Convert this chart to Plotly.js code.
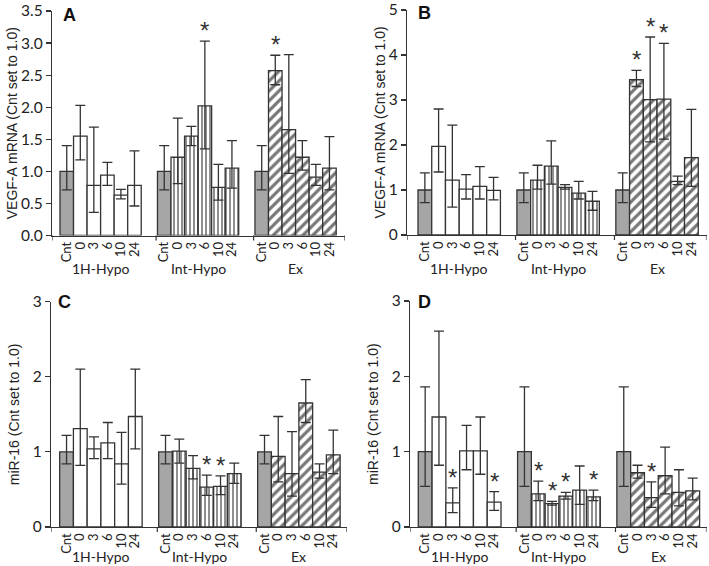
<!DOCTYPE html>
<html><head><meta charset="utf-8">
<script src="https://cdn.plot.ly/plotly-3.0.1.min.js"></script>
<style>html,body{margin:0;padding:0;background:#fff}#chart{width:709px;height:566px}</style>
</head><body><div id="chart"></div>
<script>
const categories = ['Cnt','0','3','6','10','24'];
const groups = ['1H-Hypo','Int-Hypo','Ex'];

// Panel A: VEGF-A mRNA
const aMean = [1.00,1.55,0.78,0.94,0.63,0.78, 1.00,1.22,1.55,2.02,0.75,1.05, 1.00,2.57,1.65,1.22,0.91,1.05];
const aHigh = [1.40,2.03,1.69,1.14,0.72,1.32, 1.40,1.83,1.70,3.03,1.11,1.48, 1.40,2.81,2.82,1.48,1.11,1.54];
const aLow  = [0.71,1.18,0.36,0.78,0.57,0.46, 0.71,0.81,1.40,1.35,0.55,0.74, 0.71,2.35,0.97,1.02,0.78,0.71];
const aStar = [0,0,0,0,0,0, 0,0,0,1,0,0, 0,1,0,0,0,0];

// Panel B: VEGF-A mRNA
const bMean = [1.00,1.97,1.22,1.02,1.08,0.99, 1.00,1.22,1.53,1.06,0.93,0.75, 1.00,3.45,3.01,3.02,1.19,1.72];
const bHigh = [1.38,2.80,2.44,1.34,1.52,1.28, 1.38,1.55,2.09,1.12,1.19,0.97, 1.38,3.66,4.40,4.26,1.31,2.79];
const bLow  = [0.72,1.40,0.62,0.80,0.80,0.78, 0.72,1.02,1.13,1.02,0.80,0.55, 0.72,3.30,2.07,2.13,1.12,1.08];
const bStar = [0,0,0,0,0,0, 0,0,0,0,0,0, 0,1,1,1,0,0];

// Panel C: miR-16
const cMean = [1.00,1.31,1.04,1.12,0.84,1.47, 1.00,1.01,0.78,0.53,0.54,0.71, 1.00,0.94,0.71,1.65,0.73,0.96];
const cHigh = [1.22,2.10,1.20,1.39,1.26,2.10, 1.22,1.17,0.95,0.69,0.68,0.85, 1.22,1.47,1.27,1.96,0.84,1.29];
const cLow  = [0.84,0.82,0.91,0.91,0.57,1.04, 0.84,0.85,0.64,0.42,0.43,0.58, 0.84,0.60,0.41,1.39,0.65,0.71];
const cStar = [0,0,0,0,0,0, 0,0,0,1,1,0, 0,0,0,0,0,0];

// Panel D: miR-16
const dMean = [1.00,1.46,0.32,1.01,1.01,0.33, 1.00,0.44,0.31,0.41,0.49,0.40, 1.00,0.72,0.39,0.68,0.46,0.48];
const dHigh = [1.86,2.60,0.52,1.35,1.46,0.47, 1.86,0.61,0.34,0.46,0.81,0.49, 1.86,0.82,0.60,1.06,0.76,0.65];
const dLow  = [0.54,0.82,0.19,0.76,0.70,0.22, 0.54,0.35,0.29,0.37,0.30,0.35, 0.54,0.65,0.26,0.44,0.28,0.36];
const dStar = [0,0,1,0,0,1, 0,1,1,1,0,1, 0,0,1,0,0,0];

const W = 709, H = 566;
const GSTEP = 7.2;
const pos = (g, i) => g * GSTEP + i;
const px = v => v / W;
const py = v => 1 - v / H;

const LINE = '#333333';
const CAL = 'Lato, "Open Sans", sans-serif';
const ARIAL = '"Liberation Sans", Arial, sans-serif';

const panels = [
  {mean:aMean, hi:aHigh, lo:aLow, star:aStar, letter:'A', title:'VEGF-A mRNA (Cnt set to 1.0)',
   xd:[52,345], yd:[235.5,11], yr:[0,3.5], dt:0.5, fmt:'.1f', xr:[-1.09,20.55], gy:268, tx:12, lx:69, ly:15},
  {mean:bMean, hi:bHigh, lo:bLow, star:bStar, letter:'B', title:'VEGF-A mRNA (Cnt set to 1.0)',
   xd:[407,706.5], yd:[235,10], yr:[0,5], dt:1, fmt:'d', xr:[-1.3,20.5], gy:268, tx:380, lx:425, ly:13},
  {mean:cMean, hi:cHigh, lo:cLow, star:cStar, letter:'C', title:'miR-16 (Cnt set to 1.0)',
   xd:[51,347], yd:[527,301.5], yr:[0,3], dt:1, fmt:'d', xr:[-1.13,20.4], gy:556, tx:14, lx:64, ly:302},
  {mean:dMean, hi:dHigh, lo:dLow, star:dStar, letter:'D', title:'miR-16 (Cnt set to 1.0)',
   xd:[410,706.5], yd:[527,301], yr:[0,3], dt:1, fmt:'d', xr:[-1.1,20.4], gy:556, tx:373, lx:425, ly:302}
];

const traces = [];
const layout = {
  width: W, height: H, margin:{l:0,r:0,t:0,b:0},
  paper_bgcolor:'#fff', plot_bgcolor:'#fff', showlegend:false, bargap:0, barmode:'overlay',
  annotations:[], shapes:[]
};

const styles = [
  {sel:(g,i)=>i===0, color:'#a6a6a6', pattern:null},
  {sel:(g,i)=>g===0 && i>0, color:'#ffffff', pattern:null},
  {sel:(g,i)=>g===1 && i>0, color:'#ffffff', pattern:{shape:'|', fgcolor:'#8f8f8f', bgcolor:'#ffffff', size:4, solidity:0.5}},
  {sel:(g,i)=>g===2 && i>0, color:'#ffffff', pattern:{shape:'/', fgcolor:'#767676', bgcolor:'#ffffff', size:7, solidity:0.45}}
];

panels.forEach((p, k) => {
  const n = k === 0 ? '' : String(k + 1);
  const xa = 'x' + n, ya = 'y' + n;
  styles.forEach(st => {
    const xs = [], ys = [], up = [], dn = [];
    groups.forEach((gname, g) => categories.forEach((c, i) => {
      if (!st.sel(g, i)) return;
      const idx = g * categories.length + i;
      xs.push(pos(g, i)); ys.push(p.mean[idx]);
      up.push(p.hi[idx] - p.mean[idx]); dn.push(p.mean[idx] - p.lo[idx]);
    }));
    const marker = {color: st.color, line:{color:LINE, width:1.3}};
    if (st.pattern) marker.pattern = st.pattern;
    traces.push({type:'bar', x:xs, y:ys, xaxis:xa, yaxis:ya, width:1, marker,
      error_y:{type:'data', symmetric:false, array:up, arrayminus:dn, color:LINE, thickness:1.3, width:5},
      hoverinfo:'skip'});
  });

  const tv = [], tt = [];
  groups.forEach((gname, g) => categories.forEach((c, i) => { tv.push(pos(g, i)); tt.push(c); }));

  layout['xaxis' + n] = {
    domain:[px(p.xd[0]), px(p.xd[1])], range:p.xr, anchor:ya,
    showline:true, linecolor:LINE, linewidth:1.2, showgrid:false, zeroline:false,
    tickmode:'array', tickvals:tv, ticktext:tt, tickangle:-90, ticks:'', ticklen:0,
    tickfont:{family:CAL, size:13, color:'#222'}, fixedrange:true
  };
  layout['yaxis' + n] = {
    domain:[py(p.yd[0]), py(p.yd[1])], range:p.yr, anchor:xa,
    showline:true, linecolor:LINE, linewidth:1.2, showgrid:false, zeroline:false,
    dtick:p.dt, tick0:0, tickformat:p.fmt, ticks:'outside', ticklen:5, tickcolor:LINE, tickwidth:1.2,
    tickfont:{family:CAL, size:15.5, color:'#222'}, fixedrange:true
  };

  // group separator ticks on category axis
  const seps = [p.xr[0], pos(1,0) - 0.6, pos(2,0) - 0.6, p.xr[1]];
  seps.forEach(sx => layout.shapes.push({type:'line', xref:xa, yref:ya + ' domain', x0:sx, x1:sx,
    ysizemode:'pixel', yanchor:0, y0:0, y1:-5, line:{color:LINE, width:1.2}}));

  // group labels
  groups.forEach((gname, g) => layout.annotations.push({text:gname, xref:xa, yref:'paper',
    x:pos(g, 2.5), y:py(p.gy), xanchor:'center', yanchor:'middle', showarrow:false,
    font:{family:CAL, size:14, color:'#222'}}));

  // significance asterisks
  p.star.forEach((s, idx) => {
    if (!s) return;
    const g = Math.floor(idx / categories.length), i = idx % categories.length;
    layout.annotations.push({text:'*', xref:xa, yref:ya, x:pos(g, i), y:p.hi[idx],
      xanchor:'center', yanchor:'bottom', yshift:-5, showarrow:false,
      font:{family:ARIAL, size:24, color:'#333'}});
  });

  // y-axis title
  layout.annotations.push({text:p.title, xref:'paper', yref:'paper', x:px(p.tx),
    y:py((p.yd[0] + p.yd[1]) / 2), textangle:-90, xanchor:'center', yanchor:'middle', showarrow:false,
    font:{family:ARIAL, size:14, color:'#222'}});

  // panel letter
  layout.annotations.push({text:'<b>' + p.letter + '</b>', xref:'paper', yref:'paper', x:px(p.lx), y:py(p.ly),
    xanchor:'center', yanchor:'middle', showarrow:false, font:{family:ARIAL, size:18, color:'#111'}});
});

Plotly.newPlot('chart', traces, layout, {staticPlot:true, displayModeBar:false});
</script>
</body></html>
